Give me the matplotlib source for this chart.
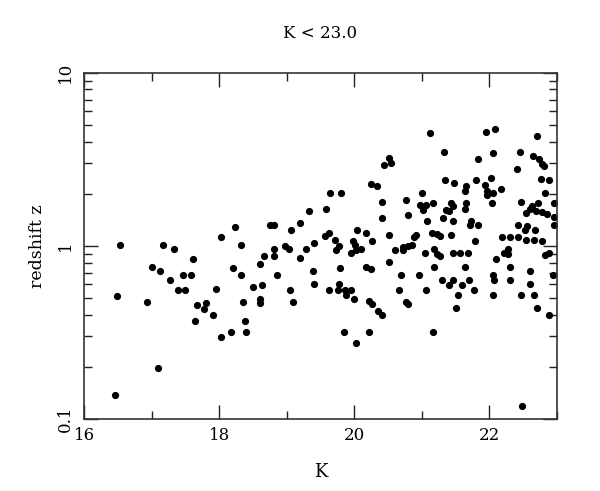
import matplotlib
matplotlib.use("Agg")
import matplotlib.pyplot as plt
from matplotlib.ticker import MultipleLocator, FixedLocator, LogLocator, NullFormatter

# K magnitude of each galaxy
K = [
    16.53, 17.17, 17.33, 18.03, 18.23, 18.33, 17.61, 17.00, 17.12, 17.47,
    17.59, 17.28, 17.39, 17.50, 17.95, 16.49, 16.94, 17.67, 17.80, 17.77,
    17.91, 17.64, 18.03, 18.18, 18.40, 18.39, 18.35, 18.33, 18.21, 17.10,
    16.46,
    20.52, 20.44, 20.55, 20.25, 20.34, 19.64, 19.81, 20.41, 20.77, 19.33,
    19.59, 20.41, 20.79, 18.75, 18.81, 19.20, 19.07, 19.62, 19.57, 19.40,
    19.72, 19.77, 20.04, 20.18, 20.51, 20.26, 19.99, 20.01,
    18.81, 18.98, 19.04, 19.29, 18.67, 18.82, 18.60, 19.20, 19.73, 19.95,
    20.03, 20.10, 20.60, 20.72, 20.72, 20.79, 20.51, 18.86, 19.39, 19.79,
    20.18, 20.25, 20.70, 18.50, 18.64, 19.05, 19.41, 19.63, 19.76, 19.78,
    19.87, 19.96, 19.88, 20.00, 20.67, 18.61, 18.61, 19.09, 20.22, 20.27,
    20.35, 20.41, 20.77, 20.79, 19.85, 20.22, 20.02,
    21.12, 21.95, 22.09, 22.71, 21.33, 22.06, 21.84, 22.45, 22.65, 22.74,
    22.78, 22.81, 22.41, 21.34, 21.48, 21.65, 21.64, 21.80, 22.02, 21.94,
    21.96, 21.97, 22.05, 22.17, 22.76, 22.88, 22.83, 21.01, 20.97, 21.02,
    21.06, 21.16, 21.43, 21.46, 21.41, 21.36, 21.66, 21.64, 22.04, 21.08,
    21.31, 21.46, 21.73, 21.71, 21.83, 22.47, 22.63, 22.55, 22.61, 22.69,
    22.78, 22.86, 22.72, 22.96, 22.96, 22.96, 22.43, 22.56, 22.53, 22.67,
    20.91, 20.89, 20.85, 21.15, 21.23, 21.27, 21.43, 21.79, 22.19, 22.31,
    22.42, 22.54, 22.66, 22.78, 22.28, 21.18,
    21.05, 21.23, 21.27, 21.47, 21.56, 21.69, 22.10, 22.22, 22.28, 22.83,
    22.89, 21.18, 21.64, 22.31, 20.96, 21.30, 21.46, 21.41, 21.59, 21.70,
    22.06, 22.07, 22.31, 22.61, 22.61, 22.94, 21.06, 21.78, 21.54, 22.05,
    22.47, 22.66, 21.51, 22.71, 22.89, 21.17, 22.48,
]

# spectroscopic redshift of each galaxy
redshift = [
    1.01, 1.01, 0.96, 1.12, 1.28, 1.01, 0.838, 0.759, 0.717, 0.677,
    0.677, 0.636, 0.557, 0.557, 0.562, 0.514, 0.475, 0.454, 0.470, 0.431,
    0.399, 0.368, 0.298, 0.320, 0.318, 0.368, 0.475, 0.677, 0.749, 0.198,
    0.138,
    3.20, 2.93, 3.03, 2.27, 2.23, 2.01, 2.01, 1.80, 1.85, 1.59,
    1.64, 1.44, 1.51, 1.32, 1.32, 1.35, 1.24, 1.19, 1.14, 1.04,
    1.08, 1.00, 1.24, 1.19, 1.15, 1.06, 1.07, 1.01,
    0.957, 1.00, 0.957, 0.957, 0.875, 0.875, 0.790, 0.849, 0.948, 0.915,
    0.944, 0.957, 0.948, 0.99, 0.948, 1.00, 0.811, 0.677, 0.717, 0.749,
    0.759, 0.739, 0.677, 0.579, 0.595, 0.557, 0.605, 0.555, 0.557, 0.605,
    0.557, 0.555, 0.519, 0.492, 0.557, 0.492, 0.470, 0.475, 0.481, 0.460,
    0.421, 0.399, 0.476, 0.460, 0.318, 0.318, 0.276,
    4.48, 4.56, 4.73, 4.32, 3.49, 3.43, 3.17, 3.49, 3.31, 3.17,
    2.99, 2.90, 2.78, 2.41, 2.30, 2.22, 2.08, 2.40, 2.48, 2.24,
    2.08, 1.96, 2.03, 2.13, 2.43, 2.40, 2.03, 2.03, 1.73, 1.61,
    1.72, 1.76, 1.78, 1.70, 1.59, 1.61, 1.78, 1.64, 1.76, 1.39,
    1.44, 1.39, 1.39, 1.32, 1.32, 1.80, 1.70, 1.55, 1.63, 1.59,
    1.56, 1.52, 1.78, 1.78, 1.46, 1.32, 1.32, 1.30, 1.23, 1.23,
    1.15, 1.12, 1.01, 1.19, 1.17, 1.14, 1.15, 1.07, 1.12, 1.12,
    1.12, 1.08, 1.08, 1.07, 0.957, 0.957,
    0.915, 0.903, 0.875, 0.915, 0.915, 0.915, 0.838, 0.915, 0.903, 0.887,
    0.915, 0.759, 0.759, 0.759, 0.677, 0.633, 0.633, 0.595, 0.595, 0.633,
    0.677, 0.633, 0.633, 0.717, 0.600, 0.677, 0.557, 0.557, 0.519, 0.519,
    0.519, 0.519, 0.437, 0.437, 0.399, 0.320, 0.119,
]

title = "K < 23.0"
x_label = "K"
y_label = "redshift z"
x_range = (16, 23)
y_range = (0.1, 10)
y_ticks = [0.1, 1, 10]
y_ticklabels = ["0.1", "1", "10"]

plt.rcParams["font.family"] = ["DejaVu Serif"]

fig = plt.figure(figsize=(6.0, 4.91), dpi=100)
ax = fig.add_axes([0.14, 0.1466, 0.788, 0.7053])

ax.plot(K, redshift, "o", color="black", markersize=5.2, markeredgewidth=0)

ax.set_yscale("log")
ax.set_xlim(*x_range)
ax.set_ylim(*y_range)

ax.xaxis.set_major_locator(MultipleLocator(2))
ax.xaxis.set_minor_locator(MultipleLocator(1))
ax.yaxis.set_major_locator(FixedLocator(y_ticks))
ax.set_yticklabels(y_ticklabels)
ax.yaxis.set_minor_locator(LogLocator(base=10, subs=range(2, 10)))
ax.yaxis.set_minor_formatter(NullFormatter())

ax.tick_params(which="both", direction="in", top=True, right=True,
               color="#222222", width=1.0, labelsize=12)
ax.tick_params(which="major", length=10)
ax.tick_params(which="minor", length=6)
ax.tick_params(axis="x", which="major", pad=6)
ax.tick_params(axis="y", which="major", pad=7.5)
for lab in ax.get_yticklabels():
    lab.set_rotation(90)
    lab.set_va("center")

for sp in ax.spines.values():
    sp.set_linewidth(1.2)
    sp.set_color("#333333")

ax.set_title(title, fontsize=12, pad=25)
ax.set_xlabel(x_label, fontsize=13, va="baseline")
ax.xaxis.set_label_coords(0.5, -0.1666)
ax.set_ylabel(y_label, fontsize=12.5)
ax.yaxis.set_label_coords(-0.081, 0.5)

fig.savefig("out.png", dpi=100)
